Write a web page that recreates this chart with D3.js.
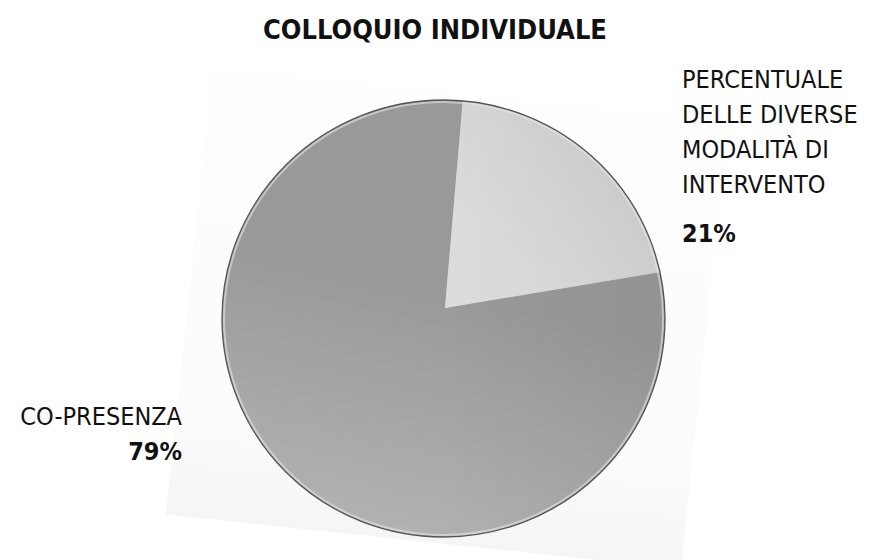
<!DOCTYPE html>
<html>
<head>
<meta charset="utf-8">
<script src="https://cdn.jsdelivr.net/npm/d3@7"></script>
<style>
  html, body { margin: 0; padding: 0; background: #fff; }
  svg { display: block; }
  text { font-family: "DejaVu Sans Condensed", "DejaVu Sans", sans-serif; fill: #111; }
</style>
</head>
<body>
<svg id="chart" width="881" height="560"></svg>
<script>
// Chart data
const title = "COLLOQUIO INDIVIDUALE";
const categories = ["PERCENTUALE DELLE DIVERSE MODALITÀ DI INTERVENTO", "CO-PRESENZA"];
const values = [21, 79];
const labelLines = [
  ["PERCENTUALE", "DELLE DIVERSE", "MODALITÀ DI", "INTERVENTO"],
  ["CO-PRESENZA"]
];
const valueLabels = ["21%", "79%"];

const svg = d3.select("#chart");
const defs = svg.append("defs");

// Layout
const ell = { cx: 443.5, cy: 318.5, rx: 221.5, ry: 218.5 };  // disc outline
const apex = { x: 445, y: 308 };                             // meeting point of the slices
const startDeg = 4.9;

// Soft tilted backdrop behind the disc
const bg = defs.append("linearGradient").attr("id", "bgGrad")
  .attr("x1", 0).attr("y1", 0).attr("x2", 0).attr("y2", 1);
bg.append("stop").attr("offset", "0%").attr("stop-color", "#fefefe");
bg.append("stop").attr("offset", "80%").attr("stop-color", "#fbfbfb");
bg.append("stop").attr("offset", "100%").attr("stop-color", "#f5f5f5");
svg.append("rect")
  .attr("x", 0).attr("y", 0).attr("width", 518).attr("height", 452)
  .attr("transform", "translate(213,65) rotate(6)")
  .attr("fill", "url(#bgGrad)");

// Slice gradients
const gBig = defs.append("linearGradient").attr("id", "gBig")
  .attr("gradientUnits", "userSpaceOnUse")
  .attr("x1", 490).attr("y1", 100).attr("x2", 390).attr("y2", 530);
gBig.append("stop").attr("offset", "0%").attr("stop-color", "#999999");
gBig.append("stop").attr("offset", "38%").attr("stop-color", "#aaaaaa");
gBig.append("stop").attr("offset", "72%").attr("stop-color", "#b8b8b8");
gBig.append("stop").attr("offset", "100%").attr("stop-color", "#bebebe");

const gSmall = defs.append("linearGradient").attr("id", "gSmall")
  .attr("gradientUnits", "userSpaceOnUse")
  .attr("x1", 620).attr("y1", 120).attr("x2", 460).attr("y2", 300);
gSmall.append("stop").attr("offset", "0%").attr("stop-color", "#cacaca");
gSmall.append("stop").attr("offset", "100%").attr("stop-color", "#dcdcdc");

const rightShade = defs.append("linearGradient").attr("id", "rightShade")
  .attr("gradientUnits", "userSpaceOnUse")
  .attr("x1", 440).attr("y1", 0).attr("x2", 665).attr("y2", 0);
rightShade.append("stop").attr("offset", "0%").attr("stop-color", "#000").attr("stop-opacity", 0);
rightShade.append("stop").attr("offset", "100%").attr("stop-color", "#000").attr("stop-opacity", 0.04);

defs.append("clipPath").attr("id", "disc")
  .append("ellipse")
  .attr("cx", ell.cx).attr("cy", ell.cy).attr("rx", ell.rx).attr("ry", ell.ry);

// Pie slices
const pie = d3.pie().sort(null).startAngle(startDeg * Math.PI / 180)
  .endAngle(startDeg * Math.PI / 180 + 2 * Math.PI);
const arcs = pie(values);
const arc = d3.arc().innerRadius(0).outerRadius(280);
const fills = ["url(#gSmall)", "url(#gBig)"];

const pieG = svg.append("g").attr("clip-path", "url(#disc)");
pieG.append("g").attr("transform", `translate(${apex.x},${apex.y})`)
  .selectAll("path").data(arcs).join("path")
  .attr("d", arc)
  .attr("fill", (d, i) => fills[i]);

// Gentle darkening toward the right side of the disc
pieG.append("ellipse")
  .attr("cx", ell.cx).attr("cy", ell.cy).attr("rx", ell.rx).attr("ry", ell.ry)
  .attr("fill", "url(#rightShade)");

// Rim highlight and outline
svg.append("ellipse")
  .attr("cx", ell.cx).attr("cy", ell.cy).attr("rx", ell.rx - 2).attr("ry", ell.ry - 2)
  .attr("fill", "none").attr("stroke", "#e4e4e4").attr("stroke-opacity", 0.6).attr("stroke-width", 2);
svg.append("ellipse")
  .attr("cx", ell.cx).attr("cy", ell.cy).attr("rx", ell.rx).attr("ry", ell.ry)
  .attr("fill", "none").attr("stroke", "#555").attr("stroke-width", 1.3);

// Title
svg.append("text")
  .attr("x", 435).attr("y", 39)
  .attr("text-anchor", "middle")
  .attr("font-weight", "bold")
  .attr("font-size", 27)
  .text(title);

// Right label (21%)
const rLab = svg.append("g").attr("transform", "translate(682,0)");
labelLines[0].forEach((line, i) => {
  rLab.append("text").attr("x", 0).attr("y", 88 + i * 35)
    .attr("font-size", 25).text(line);
});
rLab.append("text").attr("x", 0).attr("y", 242)
  .attr("font-size", 25).attr("font-weight", "bold").text(valueLabels[0]);

// Left label (79%)
const lLab = svg.append("g").attr("transform", "translate(182,0)");
labelLines[1].forEach((line, i) => {
  lLab.append("text").attr("x", 0).attr("y", 425 + i * 35)
    .attr("text-anchor", "end").attr("font-size", 25).text(line);
});
lLab.append("text").attr("x", 0).attr("y", 460)
  .attr("text-anchor", "end").attr("font-size", 25).attr("font-weight", "bold").text(valueLabels[1]);
</script>
</body>
</html>
